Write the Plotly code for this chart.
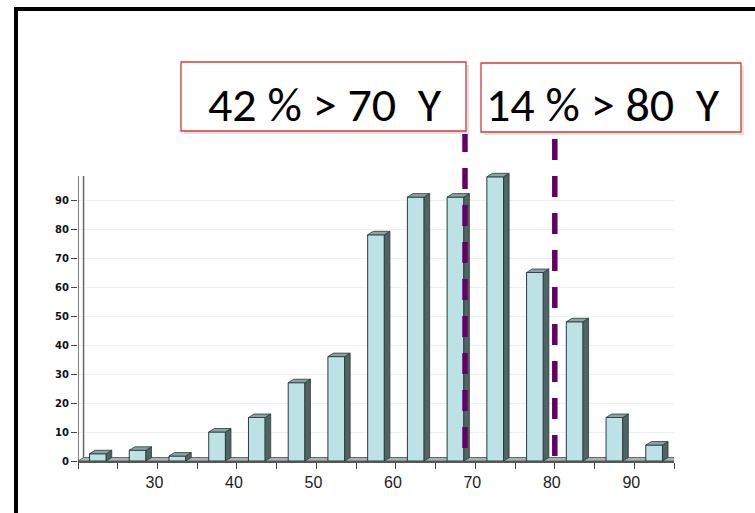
import plotly.graph_objects as go

# ---- data -------------------------------------------------------------
# age classes (bin centres, years) and number of patients per class
ages = [22.5, 27.5, 32.5, 37.5, 42.5, 47.5, 52.5, 57.5, 62.5, 67.5, 72.5, 77.5, 82.5, 87.5, 92.5]
counts = [2.5, 3.7, 1.7, 10, 15, 27, 36, 78, 91, 91, 98, 65, 48, 15, 5.5]

x_tick_vals = [20, 25, 30, 35, 40, 45, 50, 55, 60, 65, 70, 75, 80, 85, 90, 95]
x_tick_text = ["", "", "30", "", "40", "", "50", "", "60", "", "70", "", "80", "", "90", ""]
y_tick_vals = [0, 10, 20, 30, 40, 50, 60, 70, 80, 90]

# age cut-offs marked on the chart and their call-out texts
cut_ages = [68.7, 80]
callouts = ["42 % > 70\u00a0\u00a0Y", "14 % > 80\u00a0\u00a0Y"]

# ---- geometry ----------------------------------------------------------
W, H = 755, 513
ML, MR, MT, MB = 78, 81, 171, 52
X_RANGE = [20, 95]
Y_RANGE = [0, 100]
AXIS_TOP = 98.3
BAR_W = 2.1      # front face width (years)
DX, DY = 0.7, 1.2  # pseudo-3D depth offset (x in years, y in counts)

FRONT = "#bde2e5"
SIDE = "#4f6464"
TOP = "#8ba3a3"
EDGE = "#2b3a3a"


def px_x(p):
    return (p - ML) / (W - ML - MR)


def px_y(p):
    return (H - MB - p) / (H - MT - MB)


# side and top faces of the boxes, built from the counts
side_x, side_y, top_x, top_y = [], [], [], []
for c, v in zip(ages, counts):
    xl, xr = c - BAR_W / 2, c + BAR_W / 2
    side_x += [xr, xr + DX, xr + DX, xr, xr, None]
    side_y += [0, DY, v + DY, v, 0, None]
    top_x += [xl, xl + DX, xr + DX, xr, xl, None]
    top_y += [v, v + DY, v + DY, v, v, None]

fig = go.Figure()
fig.add_trace(go.Bar(
    x=ages, y=counts, width=BAR_W,
    marker=dict(color=FRONT, line=dict(color=EDGE, width=1)),
    hoverinfo="skip",
))
fig.add_trace(go.Scatter(
    x=side_x, y=side_y, mode="lines", fill="toself", fillcolor=SIDE,
    line=dict(color=EDGE, width=0.8), hoverinfo="skip",
))
fig.add_trace(go.Scatter(
    x=top_x, y=top_y, mode="lines", fill="toself", fillcolor=TOP,
    line=dict(color=EDGE, width=0.8), hoverinfo="skip",
))

shapes = []
# floor of the chart
shapes.append(dict(
    type="path", xref="x", yref="y", layer="below",
    path=f"M {X_RANGE[0]},0 L {X_RANGE[1]},0 L {X_RANGE[1] + DX},{DY} L {X_RANGE[0] + DX},{DY} Z",
    fillcolor="#aab3b3", line=dict(color="#5f6a6a", width=1),
))
# value axis: front edge and back-wall edge
shapes.append(dict(type="line", xref="x", yref="y", x0=X_RANGE[0], x1=X_RANGE[0],
                   y0=0, y1=AXIS_TOP, line=dict(color="#555555", width=1.5)))
shapes.append(dict(type="line", xref="x", yref="y", x0=X_RANGE[0] + DX, x1=X_RANGE[0] + DX,
                   y0=DY, y1=AXIS_TOP, line=dict(color="#666666", width=1.5)))

# dashed cut-off lines
top_px = [131, 139]
for a, tp in zip(cut_ages, top_px):
    shapes.append(dict(type="line", xref="x", yref="paper", x0=a, x1=a,
                       y0=px_y(tp), y1=px_y(461), layer="above",
                       line=dict(color="#650066", width=5.5, dash="21px,16px")))

# call-out boxes
boxes = [(181, 62, 466, 131), (481, 63, 741, 132)]
text_left = [206, 484]
annotations = []
for (x0, y0, x1, y1), txt, tl in zip(boxes, callouts, text_left):
    shapes.append(dict(type="rect", xref="paper", yref="paper",
                       x0=px_x(x0 + 3), x1=px_x(x1 + 3), y0=px_y(y0 + 3), y1=px_y(y1 + 3),
                       fillcolor="#e2e2e2", line=dict(width=0)))
    shapes.append(dict(type="rect", xref="paper", yref="paper",
                       x0=px_x(x0), x1=px_x(x1), y0=px_y(y0), y1=px_y(y1),
                       fillcolor="white", line=dict(color="#d43a3a", width=1.3)))
    annotations.append(dict(
        xref="paper", yref="paper", x=px_x(tl), y=px_y(104),
        xanchor="left", yanchor="middle", showarrow=False, text=txt,
        font=dict(family="Carlito, Lato, sans-serif", size=48, color="black"),
    ))

# slide frame
shapes.append(dict(type="line", xref="paper", yref="paper",
                   x0=px_x(14), x1=px_x(760), y0=px_y(9), y1=px_y(9),
                   line=dict(color="black", width=4)))
shapes.append(dict(type="line", xref="paper", yref="paper",
                   x0=px_x(16), x1=px_x(16), y0=px_y(7), y1=px_y(520),
                   line=dict(color="black", width=4)))

fig.update_layout(
    width=W, height=H,
    margin=dict(l=ML, r=MR, t=MT, b=MB),
    paper_bgcolor="white", plot_bgcolor="white",
    showlegend=False, hovermode=False,
    shapes=shapes, annotations=annotations,
    xaxis=dict(
        range=X_RANGE, tickvals=x_tick_vals, ticktext=x_tick_text,
        ticks="outside", ticklen=6, tickcolor="#444444",
        showline=True, linecolor="#555555", linewidth=2,
        showgrid=False, zeroline=False, ticklabelshift=-3,
        tickfont=dict(family="Liberation Sans, Arial, sans-serif", size=16, color="#222222"),
    ),
    yaxis=dict(
        range=Y_RANGE, tickvals=y_tick_vals,
        ticks="outside", ticklen=6, tickcolor="#444444",
        showline=False, showgrid=True, gridcolor="#efefef",
        zeroline=False,
        tickfont=dict(family="DejaVu Sans", size=10, color="#111111", weight="bold"),
    ),
)

fig.write_html("out.html")
